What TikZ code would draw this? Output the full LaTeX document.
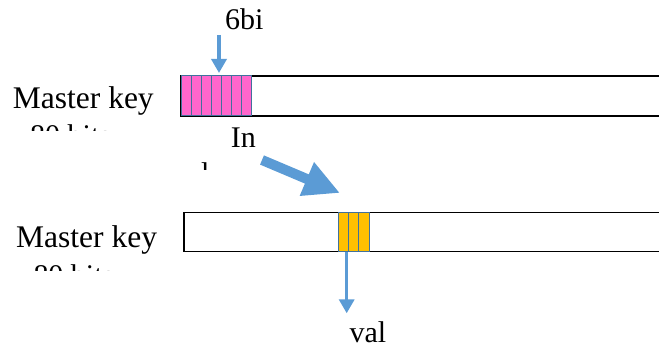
\documentclass[tikz,border=0pt]{standalone}
\usepackage{fontspec}
\setmainfont{Liberation Serif}
\usetikzlibrary{arrows.meta}
\definecolor{arrowblue}{HTML}{5B9BD5}
\definecolor{cellpink}{HTML}{FF66CC}
\definecolor{cellgold}{HTML}{FFC000}
\definecolor{celledge}{HTML}{41719C}
\begin{document}
\begin{tikzpicture}[x=1pt,y=-1pt,
  lbl/.style={inner sep=0pt, anchor=base west, font=\fontsize{30}{36}\selectfont},
  keylbl/.style={lbl, font=\fontsize{31.5}{38}\selectfont},
  keybar/.style={draw=black, line width=1.3pt, fill=white},
  pinkcell/.style={draw=celledge, line width=1pt, fill=cellpink},
  goldcell/.style={draw=celledge, line width=1pt, fill=cellgold},
  ptr/.style={draw=arrowblue, line width=4pt, -{Triangle[length=14pt,width=15pt]}},
  bigptr/.style={draw=arrowblue, line width=10pt, -{Triangle[length=36pt,width=34pt]}}]
\useasboundingbox (0,0) rectangle (659,347);
\clip (0,0) rectangle (659,347);

% upper master key register with the selected 6-bit window
\draw[keybar] (181,76) rectangle (690,116);
\foreach \i in {0,...,6}
  \draw[pinkcell] ({181+\i*10.1},76) rectangle ({181+(\i+1)*10.1},116);

% lower master key register with the extracted bits
\draw[keybar] (184,212.5) rectangle (690,251.5);
\foreach \i in {0,1,2}
  \draw[goldcell] ({338.5+\i*10.2},212.5) rectangle ({338.5+(\i+1)*10.2},251.5);

% labels
\node[lbl] (sixbits) at (225,30) {6bi};
\node[keylbl] (mkTop) at (12.7,108.3) {Master key};
\node[keylbl] (mkBot) at (16,247.7) {Master key};
\node[lbl] (idx) at (230.7,147.3) {In};
\node[lbl] (val) at (349.3,342.5) {val};

% second lines cut off by their text boxes
\begin{scope}
  \clip (0,0) rectangle (180,131);
  \node[lbl] (bitsTop) at (30,145.3) {80 bits};
\end{scope}
\begin{scope}
  \clip (0,140) rectangle (180,271);
  \node[lbl] (bitsBot) at (33.3,285.3) {80 bits};
\end{scope}
\begin{scope}
  \clip (190,150) rectangle (300,170);
  \node[lbl] (idxCont) at (201,183.5) {l};
\end{scope}

% arrows
\coordinate (selStart) at (219,35);
\coordinate (selEnd) at (219,73);
\draw[ptr] (selStart) -- (selEnd);

\coordinate (hopA) at (262,160);
\coordinate (hopB) at (340,193);
\draw[bigptr] (hopA) -- (hopB);

\coordinate (outStart) at (346.7,251.7);
\coordinate (outEnd) at (346.7,313.3);
\draw[ptr, line width=3.5pt] (outStart) -- (outEnd);
\end{tikzpicture}
\end{document}
